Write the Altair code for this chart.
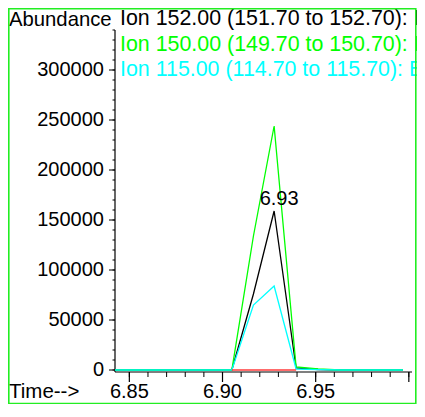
import altair as alt
import pandas as pd

# ---- data ----
times = [6.8350, 6.8467, 6.8584, 6.8700, 6.8817, 6.8934, 6.9050, 6.9166,
         6.9277, 6.9395, 6.9513, 6.9630, 6.9746, 6.9863, 6.9968]
ion152 = [0, 0, 0, 0, 0, 0, 0, 76000, 159000, 2000, 500, 0, 0, 0, 0]
ion150 = [0, 0, 0, 0, 0, 0, 0, 134000, 244000, 3000, 1000, 0, 0, 0, 0]
ion115 = [0, 0, 0, 0, 0, 0, 0, 65000, 84000, 1000, 300, 0, 0, 0, 0]

base_times = [6.9050, 6.9395]
base_vals = [0, 0]

peak_time = [6.9277]
peak_val = [159000]
peak_label = ["6.93"]

ion_labels = ["Ion 152.00 (151.70 to 152.70): B",
              "Ion 150.00 (149.70 to 150.70): B",
              "Ion 115.00 (114.70 to 115.70): B"]
ion_colors = ["#000000", "#00ff00", "#00ffff"]

x_major = [6.85, 6.90, 6.95, 7.00]
x_label_vals = [6.85, 6.90, 6.95]
x_label_text = ["6.85", "6.90", "6.95"]
x_minor = [round(6.85 + 0.01 * i, 2) for i in range(16)]
y_major = [0, 50000, 100000, 150000, 200000, 250000, 300000]
y_label_text = ["0", "50000", "100000", "150000", "200000", "250000", "300000"]
y_minor = [10000 * i for i in range(35)]

FONT = "Liberation Sans"
X_DOMAIN = [6.8423, 7.0017]
Y_DOMAIN = [-2000, 340000]
W, H = 297, 342

xs = alt.Scale(domain=X_DOMAIN, nice=False, zero=False)
ys = alt.Scale(domain=Y_DOMAIN, nice=False, zero=False)


def X(field):
    return alt.X(field, scale=xs, axis=None)


def Y(field):
    return alt.Y(field, scale=ys, axis=None)


df = pd.DataFrame({"t": times, "b": ion152, "g": ion150, "c": ion115})
df_base = pd.DataFrame({"t": base_times, "v": base_vals})
df_peak = pd.DataFrame({"t": peak_time, "v": peak_val, "lab": peak_label})

one = pd.DataFrame({"a": [0]})

# axis lines
x_domain_line = alt.Chart(one).mark_rule(color="black", strokeWidth=1.2).encode(
    x=alt.value(0), x2=alt.value(W), y=alt.value(H))
y_domain_line = alt.Chart(one).mark_rule(color="black", strokeWidth=1.2).encode(
    x=alt.value(0), y=alt.value(0), y2=alt.value(H))

# ticks
x_major_ticks = alt.Chart(pd.DataFrame({"t": x_major})).mark_rule(color="black", strokeWidth=1.2).encode(
    x=X("t:Q"), y=alt.value(H), y2=alt.value(H + 10))
x_minor_ticks = alt.Chart(pd.DataFrame({"t": x_minor})).mark_rule(color="black", strokeWidth=1).encode(
    x=X("t:Q"), y=alt.value(H), y2=alt.value(H + 5))
y_major_ticks = alt.Chart(pd.DataFrame({"v": y_major})).mark_rule(color="black", strokeWidth=1).encode(
    y=Y("v:Q"), x=alt.value(-6), x2=alt.value(0))
y_minor_ticks = alt.Chart(pd.DataFrame({"v": y_minor})).mark_rule(color="black", strokeWidth=1).encode(
    y=Y("v:Q"), x=alt.value(-2.5), x2=alt.value(0))

# tick labels
x_labels = alt.Chart(pd.DataFrame({"t": x_label_vals, "lab": x_label_text})).mark_text(
    font=FONT, fontSize=20, color="black", align="center", baseline="middle").encode(
    x=X("t:Q"), y=alt.value(H + 20), text="lab:N")
y_labels = alt.Chart(pd.DataFrame({"v": y_major, "lab": y_label_text})).mark_text(
    font=FONT, fontSize=20, color="black", align="right", baseline="middle").encode(
    y=Y("v:Q"), x=alt.value(-11), text="lab:N")

# titles
y_title = alt.Chart(pd.DataFrame({"lab": ["Abundance"]})).mark_text(
    font=FONT, fontSize=20.3, color="black", align="left", baseline="middle").encode(
    x=alt.value(-106), y=alt.value(-10.5), text="lab:N")
x_title = alt.Chart(pd.DataFrame({"lab": ["Time-->"]})).mark_text(
    font=FONT, fontSize=20.5, color="black", align="left", baseline="middle").encode(
    x=alt.value(-106), y=alt.value(H + 20), text="lab:N")

# data lines
black = alt.Chart(df).mark_line(color="#000000", strokeWidth=1.3, clip=True).encode(
    x=X("t:Q"), y=Y("b:Q"))
green = alt.Chart(df).mark_line(color="#00ff00", strokeWidth=1.3, clip=True).encode(
    x=X("t:Q"), y=Y("g:Q"))
cyan = alt.Chart(df).mark_line(color="#00ffff", strokeWidth=1.3, clip=True).encode(
    x=X("t:Q"), y=Y("c:Q"))
red = alt.Chart(df_base).mark_line(color="#ff3b3b", strokeWidth=1.3).encode(
    x=X("t:Q"), y=Y("v:Q"))
peak = alt.Chart(df_peak).mark_text(font=FONT, fontSize=20, color="black",
                                     align="center", baseline="alphabetic",
                                     dx=5, dy=-6).encode(
    x=X("t:Q"), y=Y("v:Q"), text="lab:N")

ion_layers = []
for i, (lab, col) in enumerate(zip(ion_labels, ion_colors)):
    ion_layers.append(
        alt.Chart(pd.DataFrame({"lab": [lab]})).mark_text(
            font=FONT, fontSize=21.4, color=col, align="left", baseline="middle"
        ).encode(x=alt.value(5), y=alt.value(-11 + 25.5 * i), text="lab:N")
    )

border = alt.Chart(one).mark_rect(
    fill=None, stroke="#22ee22", strokeWidth=1.6
).encode(x=alt.value(-106.2), x2=alt.value(300.8), y=alt.value(-21.2), y2=alt.value(373.5))

chart = alt.layer(
    x_domain_line, y_domain_line, x_minor_ticks, x_major_ticks, y_minor_ticks, y_major_ticks,
    x_labels, y_labels, y_title, x_title,
    black, green, cyan, red, peak, *ion_layers, border
).properties(
    width=W, height=H,
    padding={"left": 107, "top": 22, "right": 5, "bottom": 32},
    autosize=alt.AutoSizeParams(type="none"),
).configure_view(stroke=None)

chart.save("out.html", embed_options={"renderer": "svg", "actions": False})
